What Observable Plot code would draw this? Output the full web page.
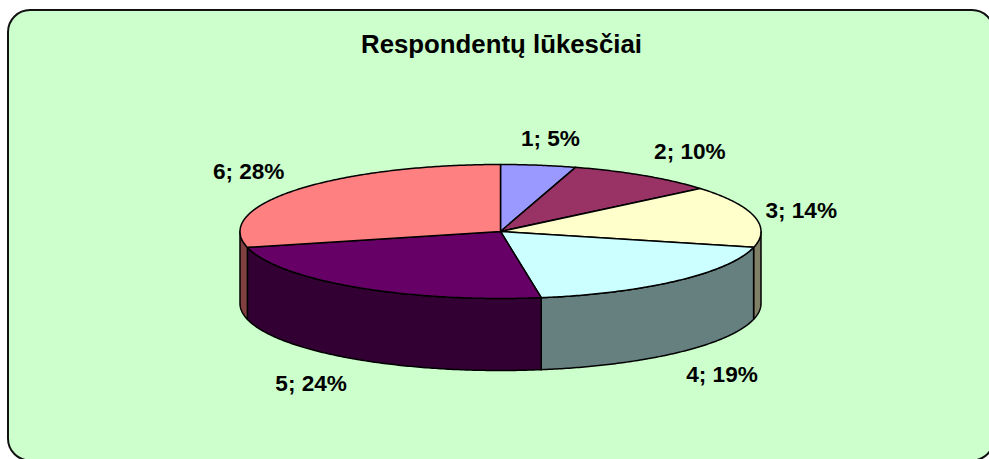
<!DOCTYPE html>
<html>
<head>
<meta charset="utf-8">
<script src="https://cdn.jsdelivr.net/npm/d3@7"></script>
<script src="https://cdn.jsdelivr.net/npm/@observablehq/plot@0.6"></script>
<style>html,body{margin:0;padding:0;background:#fff;overflow:hidden}svg{display:block}</style>
</head>
<body>
<div id="chart"></div>
<script>
const chartTitle = "Respondentų lūkesčiai";
const categories = ["1", "2", "3", "4", "5", "6"];
const percentLabels = ["5%", "10%", "14%", "19%", "24%", "28%"];
const shares = [4.65, 9.25, 14.9, 18.7, 23.7, 28.8];
const topColors = ["#9999FF", "#993366", "#FFFFCC", "#CCFFFF", "#660066", "#FF8080"];
const sideColors = ["#4D4D80", "#4D1A33", "#808066", "#668080", "#330033", "#804040"];

// Pie geometry: x and y are in units of the pie radius, the scales do the projection.
const W = 989, H = 459;
const cx = 500, cy = 231, rx = 260.5, ry = 67, depthPx = 72;
const depth = depthPx / ry;
const xDomain = [-cx / rx, (W - cx) / rx];
const yDomain = [-cy / ry, (H - cy) / ry];
const ux = px => (px - cx) / rx, uy = py => (py - cy) / ry;

const total = d3.sum(shares);
let running = 0;
const slices = shares.map((s, i) => {
  const a0 = running / total * 2 * Math.PI;
  running += s;
  return {i, a0, a1: running / total * 2 * Math.PI};
});
const rim = a => [Math.sin(a), -Math.cos(a)];
const arc = (a0, a1) => {
  const n = Math.max(2, Math.ceil((a1 - a0) / 0.01));
  return d3.range(n + 1).map(k => rim(a0 + (a1 - a0) * k / n));
};

const topPoly = s => [[0, 0], ...arc(s.a0, s.a1), [0, 0]];
const sidePoly = s => {
  const a0 = Math.max(s.a0, Math.PI / 2), a1 = Math.min(s.a1, 3 * Math.PI / 2);
  if (a1 <= a0) return null;
  const upper = arc(a0, a1);
  const lower = upper.map(([x, y]) => [x, y + depth]).reverse();
  return [...upper, ...lower, upper[0]];
};
const poly = (pts, fill) => Plot.line(pts, {
  x: d => d[0], y: d => d[1], fill, stroke: "#000", strokeWidth: 1.5,
  curve: "linear", strokeLinejoin: "round"
});

// Per-label pixel offsets from the rim point of the slice's middle angle.
const labelOffsets = [[12, -26], [46, -24], [47, -6], [45, 22], [-45, 24], [-47, -18]];
const labelMarks = slices.map(s => {
  const [x, y] = rim((s.a0 + s.a1) / 2);
  const front = y > 0;
  return Plot.text([`${categories[s.i]}; ${percentLabels[s.i]}`], {
    x: () => x, y: () => y + (front ? depth : 0), text: d => d,
    dx: labelOffsets[s.i][0], dy: labelOffsets[s.i][1],
    fontFamily: "Liberation Sans", fontWeight: "bold", fontSize: 22.6, fill: "#000"
  });
});

const plot = Plot.plot({
  width: W, height: H,
  margin: 0,
  style: {background: "transparent"},
  x: {domain: xDomain, range: [0, W], axis: null},
  y: {domain: yDomain, range: [0, H], axis: null},
  marks: [
    Plot.rect([0], {
      x1: () => ux(8), x2: () => ux(994), y1: () => uy(10), y2: () => uy(460.5),
      rx: 22, fill: "#CCFFCC", stroke: "#111", strokeWidth: 2
    }),
    ...slices.map(s => {
      const p = sidePoly(s);
      return p ? poly(p, sideColors[s.i]) : null;
    }).filter(Boolean),
    ...slices.map(s => poly(topPoly(s), topColors[s.i])),
    Plot.text([chartTitle], {
      frameAnchor: "top", dx: 6.5, dy: 44, text: d => d, lineAnchor: "middle",
      fontFamily: "Liberation Sans", fontWeight: "bold", fontSize: 25.8, fill: "#000"
    }),
    ...labelMarks
  ]
});
document.getElementById("chart").appendChild(plot);
</script>
</body>
</html>
